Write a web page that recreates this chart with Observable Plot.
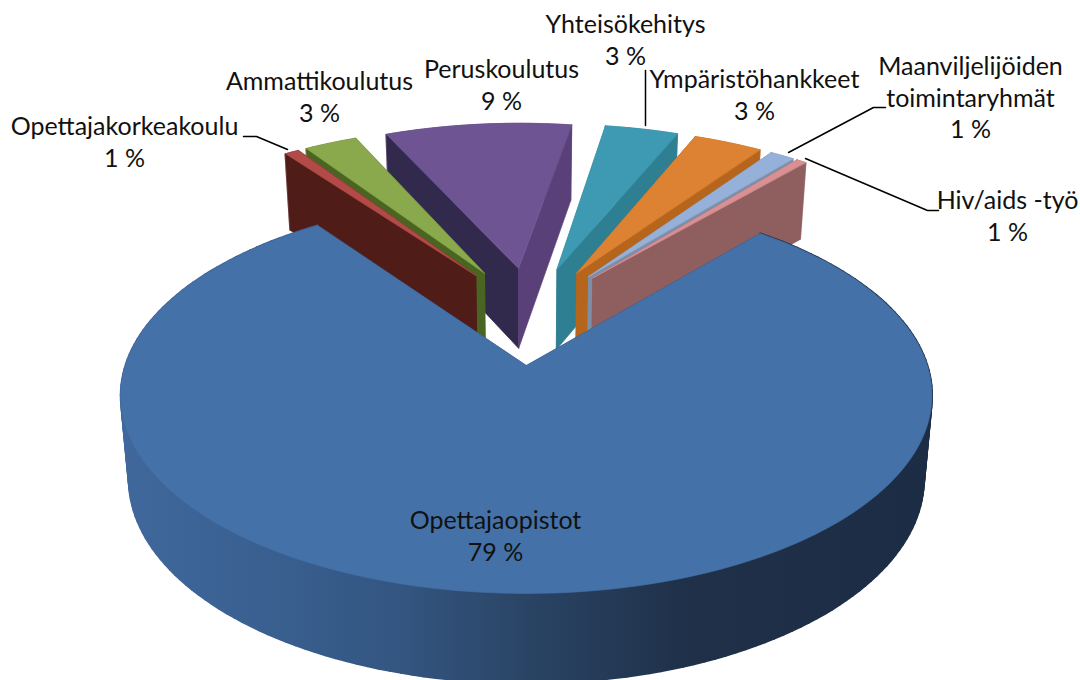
<!DOCTYPE html>
<html lang="fi">
<head>
<meta charset="utf-8">
<style>
html,body{margin:0;padding:0;background:#fff;overflow:hidden}
svg{display:block}
</style>
<script src="https://cdn.jsdelivr.net/npm/d3@7"></script>
<script src="https://cdn.jsdelivr.net/npm/@observablehq/plot@0.6"></script>
</head>
<body>
<div id="chart"></div>
<script>
// ---- data, clockwise from the left edge of the gap
const categories = ["Opettajakorkeakoulu","Ammattikoulutus","Peruskoulutus","Yhteisökehitys","Ympäristöhankkeet","Maanviljelijöiden\ntoimintaryhmät","Hiv/aids -työ","Opettajaopistot"];
const shares = [0.7, 2.6, 9.2, 3.6, 3.4, 1.2, 0.5, 78.8];
const percentLabels = ["1 %","3 %","9 %","3 %","3 %","1 %","1 %","79 %"];

// ---- colours
const topColors   = ["#b24a48","#8aa94c","#6f5493","#3e9ab2","#dd8232","#95b1da","#d99093","#4471a8"];
const leftWalls   = ["#501c18","#4a6522","#322a4c","#2f7f92","#b5651c","#7d8fa8","#8f5f5f","#2f4b73"];
const rightWalls  = ["#501c18","#556f2a","#5a4079","#2f7f92","#b5651c","#7d8fa8","#8f5f5f","#2f4b73"];
const paintOrder  = [2,1,0,3,4,5,6,7];
const rimStops = [[0,"#40689c"],[0.2,"#395f8f"],[0.35,"#335580"],[0.5,"#2a4465"],[0.7,"#1f3048"],[1,"#1b2c44"]];

// ---- label placement
const labelX = [124,319,501,625,754,970,1007,495];
const labelY = [140,95,83,38,93,96,214,534];
const leaderPaths = [
  [[243,136],[256,136],[287,149]],
  [[645,70],[645,125]],
  [[885,107],[873,107],[788,152]],
  [[938,210],[927,210],[805,158]]
];

// ---- perspective model of the tilted disc
const cx = 527, cy = 365, R = 401, A = 193.6, k = 0.151;
const wallY = [1.03, 72], wallX = 0.98;
const discCentre = [0.009, -0.285];
const explodeSmall = 0.26, explodeBig = 0.285;
const startDeg = -35.8;
const rad = Math.PI / 180;

function project(u, v, low) {
  const p = 1 / (1 - k * v);
  let x = cx + R * u * p, y = cy + A * v * p;
  if (low) { x = cx + (x - cx) * wallX; y = y * wallY[0] + wallY[1]; }
  return [x, y];
}

// ---- turn the shares into polygons
const polygons = [], bigRim = [], bigTop = [];
let face = 0;
function addFace(pts, fill, target) {
  const z = face++;
  pts.forEach(([x, y]) => target.push({x, y, z, fill}));
}

let cum = startDeg;
const slices = shares.map((s, i) => {
  const a0 = cum, a1 = cum + s * 3.6;
  cum = a1;
  return {i, a0, a1};
});

paintOrder.forEach(i => {
  const {a0, a1} = slices[i];
  const isBig = i === 7;
  const mid = (a0 + a1) / 2 * rad;
  const e = isBig ? explodeBig : explodeSmall;
  const ou = discCentre[0] + e * Math.sin(mid);
  const ov = discCentre[1] - e * Math.cos(mid);
  const n = Math.max(2, Math.ceil((a1 - a0) / 1.5));
  const angles = d3.range(n + 1).map(j => (a0 + (a1 - a0) * j / n) * rad);
  const at = (t, low) => project(ou + Math.sin(t), ov - Math.cos(t), low);

  // outer rim, one quad per arc step so the silhouette follows the wall
  for (let j = 0; j < n; j++) {
    addFace([at(angles[j]), at(angles[j + 1]), at(angles[j + 1], true), at(angles[j], true)],
      isBig ? "url(#rimGradient)" : rightWalls[i], isBig ? bigRim : polygons);
  }
  const v0 = project(ou, ov), v1 = project(ou, ov, true);
  const tL = angles[0], tR = angles[n];
  const leftWall  = [at(tL), v0, v1, at(tL, true)];
  const rightWall = [at(tR), v0, v1, at(tR, true)];
  const target = isBig ? bigTop : polygons;
  if ((a0 + a1) / 2 < -12) {           // slices left of the gap: left face is in front
    addFace(rightWall, rightWalls[i], target);
    addFace(leftWall, leftWalls[i], target);
  } else {
    addFace(leftWall, leftWalls[i], target);
    addFace(rightWall, rightWalls[i], target);
  }
  addFace([v0, ...angles.map(t => at(t))], topColors[i], target);
});

const leaders = leaderPaths.flatMap((path, z) => path.map(([x, y]) => ({x, y, z})));
const labels = categories.map((c, i) => ({x: labelX[i], y: labelY[i], text: c + "\n" + percentLabels[i]}));

// gradient used by the rim of the big slice, across its full width
function rimDefs(index, scales) {
  const defs = d3.create("svg:defs");
  const g = defs.append("linearGradient").attr("id", "rimGradient")
    .attr("gradientUnits", "userSpaceOnUse")
    .attr("x1", scales.x(cx - R * 1.02)).attr("x2", scales.x(cx + R * 1.02))
    .attr("y1", 0).attr("y2", 0);
  rimStops.forEach(([o, c]) => g.append("stop").attr("offset", o).attr("stop-color", c));
  return defs.node();
}

const chart = Plot.plot({
  width: 1080, height: 680,
  margin: 0,
  x: {domain: [0, 1080], range: [0, 1080], axis: null},
  y: {domain: [0, 680], range: [0, 680], axis: null},
  color: {type: "identity"},
  style: {background: "#fff"},
  marks: [
    rimDefs,
    Plot.line(polygons, {x: "x", y: "y", z: "z", fill: "fill", stroke: "fill", strokeWidth: 0.6, curve: "linear-closed"}),
    Plot.line(bigRim, {x: "x", y: "y", z: "z", fill: "fill", stroke: "fill", strokeWidth: 2, curve: "linear-closed"}),
    Plot.line(bigTop, {x: "x", y: "y", z: "z", fill: "fill", stroke: "fill", strokeWidth: 0.6, curve: "linear-closed"}),
    Plot.line(leaders, {x: "x", y: "y", z: "z", stroke: "#000", strokeWidth: 1.5}),
    Plot.text(labels, {x: "x", y: "y", text: "text", fontFamily: "Lato", fontSize: 25, lineHeight: 1.27, fill: "#111", textAnchor: "middle"})
  ]
});
document.getElementById("chart").appendChild(chart);
</script>
</body>
</html>
